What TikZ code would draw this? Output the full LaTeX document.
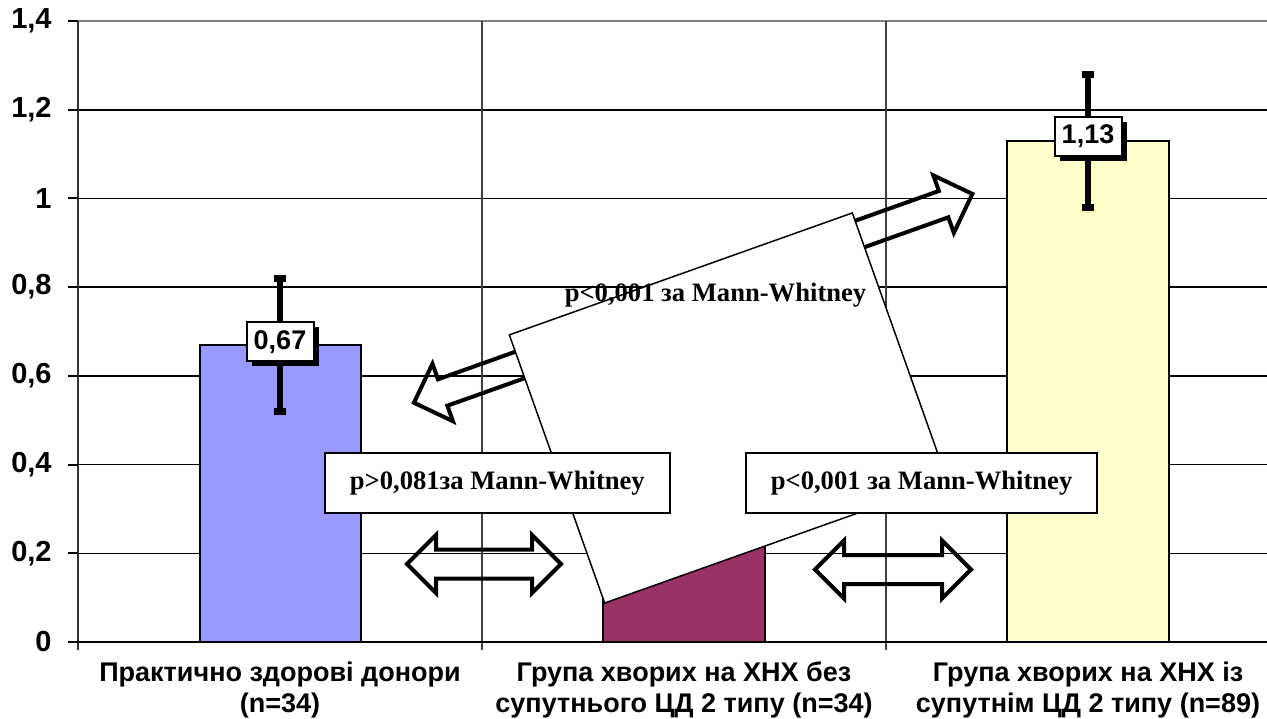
\documentclass[tikz,border=0pt]{standalone}
\usepackage{fontspec}
\setmainfont{Liberation Serif}
\setsansfont{Liberation Sans}
\usepackage{tikz}
\usetikzlibrary{shapes.arrows,shadows}

\definecolor{barblue}{HTML}{9999FF}
\definecolor{barplum}{HTML}{993366}
\definecolor{barcream}{HTML}{FFFFCC}

\begin{document}
\begin{tikzpicture}[x=202pt,y=221.8pt,
    axisfont/.style={font=\sffamily\bfseries\fontsize{13.5}{15.5}\selectfont},
    ylab/.style={font=\sffamily\bfseries\fontsize{14.5}{16}\selectfont,anchor=east,inner sep=0pt,xshift=-13pt},
    gridline/.style={line width=0.75pt},
    bar/.style={draw=black,line width=1pt},
    errbar/.style={line width=3pt},
    errcap/.style={line width=3.5pt},
    valbox/.style={axisfont,draw,fill=white,line width=1pt,minimum width=33.5pt,minimum height=19.5pt,inner sep=0pt,
        drop shadow={shadow xshift=2.5pt,shadow yshift=-2.5pt,fill=black,opacity=1}},
    pfont/.style={font=\rmfamily\bfseries\fontsize{13.3}{15}\selectfont},
    pbox/.style={pfont,draw,fill=white,line width=0.75pt,minimum height=30pt,inner sep=0pt},
    bigarrow/.style={single arrow,draw,line width=2pt,minimum height=75pt,minimum width=0pt,
        single arrow head extend=8.25pt,inner xsep=0pt,inner ysep=6pt},
    twoarrow/.style={double arrow,draw,line width=2pt,minimum width=0pt,
        double arrow head extend=7.25pt,inner xsep=0pt,inner ysep=6.25pt}]

    \useasboundingbox (-0.19307,-0.17133) rectangle (2.94307,1.44725);

    % Grid and axes
    \draw[gridline] (0,0.2) -- (2.94307,0.2);
    \draw[gridline] (0,0.4) -- (2.94307,0.4);
    \draw[gridline] (0,0.6) -- (2.94307,0.6);
    \draw[gridline] (0,0.8) -- (2.94307,0.8);
    \draw[gridline] (0,1.0) -- (2.94307,1.0);
    \draw[gridline,line width=1.1pt] (0,1.2) -- (2.94307,1.2);
    \draw[gray,line width=1.2pt] (0,1.4) -- (2.94307,1.4);
    \draw[black!75,line width=0.6pt] (1,1.4) -- (1,0) -- ++(0,-4pt);
    \draw[black!75,line width=0.6pt] (2,1.4) -- (2,0) -- ++(0,-4pt);
    \draw[black!80,line width=1.1pt] (0,1.4) -- (0,0) -- ++(0,-4pt);
    \draw[line width=1.1pt] (0,0) -- (2.94307,0);

    % Value axis
    \draw[line width=1pt] (0,0) -- ++(-5pt,0);
    \draw[line width=1pt] (0,0.2) -- ++(-5pt,0);
    \draw[line width=1pt] (0,0.4) -- ++(-5pt,0);
    \draw[line width=1pt] (0,0.6) -- ++(-5pt,0);
    \draw[line width=1pt] (0,0.8) -- ++(-5pt,0);
    \draw[line width=1pt] (0,1.0) -- ++(-5pt,0);
    \draw[line width=1pt] (0,1.2) -- ++(-5pt,0);
    \draw[line width=1pt] (0,1.4) -- ++(-5pt,0);
    \node[ylab] (y0) at (0,0) {0};
    \node[ylab] (y02) at (0,0.2) {0,2};
    \node[ylab] (y04) at (0,0.4) {0,4};
    \node[ylab] (y06) at (0,0.6) {0,6};
    \node[ylab] (y08) at (0,0.8) {0,8};
    \node[ylab] (y10) at (0,1.0) {1};
    \node[ylab] (y12) at (0,1.2) {1,2};
    \node[ylab] (y14) at (0,1.4) {1,4};

    % Group names
    \node[axisfont,align=center] (donors) at (0.5,-0.108) {Практично здорові донори\\(n=34)};
    \node[axisfont,align=center] (nodm) at (1.5,-0.108) {Група хворих на ХНХ без\\супутнього ЦД 2 типу (n=34)};
    \node[axisfont,align=center] (withdm) at (2.5,-0.108) {Група хворих на ХНХ із\\супутнім ЦД 2 типу (n=89)};

    % Bars
    \draw[bar,fill=barblue] (0.302,0) rectangle (0.7,0.67);
    \draw[bar,fill=barplum] (1.3,0) rectangle (1.7,0.6);
    \draw[bar,fill=barcream] (2.3,0) rectangle (2.7,1.13);

    % Error bars
    \draw[errbar] (0.5,0.52) -- (0.5,0.82);
    \draw[errcap] (0.5,0.82) ++(-3pt,0) -- ++(6pt,0);
    \draw[errcap] (0.5,0.52) ++(-3pt,0) -- ++(6pt,0);
    \draw[errbar] (2.5,0.98) -- (2.5,1.28);
    \draw[errcap] (2.5,1.28) ++(-3pt,0) -- ++(6pt,0);
    \draw[errcap] (2.5,0.98) ++(-3pt,0) -- ++(6pt,0);
    \node[valbox] (v1) at (0.5,0.677) {0,67};
    \node[valbox] (v3) at (2.5,1.14) {1,13};

    % Comparison arrows
    \node[bigarrow,rotate=199.6] (arrL) at (1.0228,0.6014) {};
    \node[bigarrow,rotate=19.6] (arrR) at (2.0225,0.9481) {};
    \node[draw,fill=white,line width=0.75pt,rotate=19.57,minimum width=182pt,minimum height=142.3pt,inner sep=0pt] (pall) at (1.6101,0.5275) {};
    \node[pfont,anchor=base,inner sep=0pt] (pallText) at (1.578,0.7665) {p<0,001 за Mann-Whitney};

    \node[pbox,minimum width=172.5pt] (pLeft) at (1.038,0.358) {p>0,081за Mann-Whitney};
    \node[pbox,minimum width=175.5pt] (pRight) at (2.088,0.358) {p<0,001 за Mann-Whitney};
    \node[twoarrow,minimum height=77pt] (dblL) at (1.005,0.1758) {};
    \node[twoarrow,minimum height=78pt] (dblR) at (2.0173,0.1634) {};
\end{tikzpicture}
\end{document}
